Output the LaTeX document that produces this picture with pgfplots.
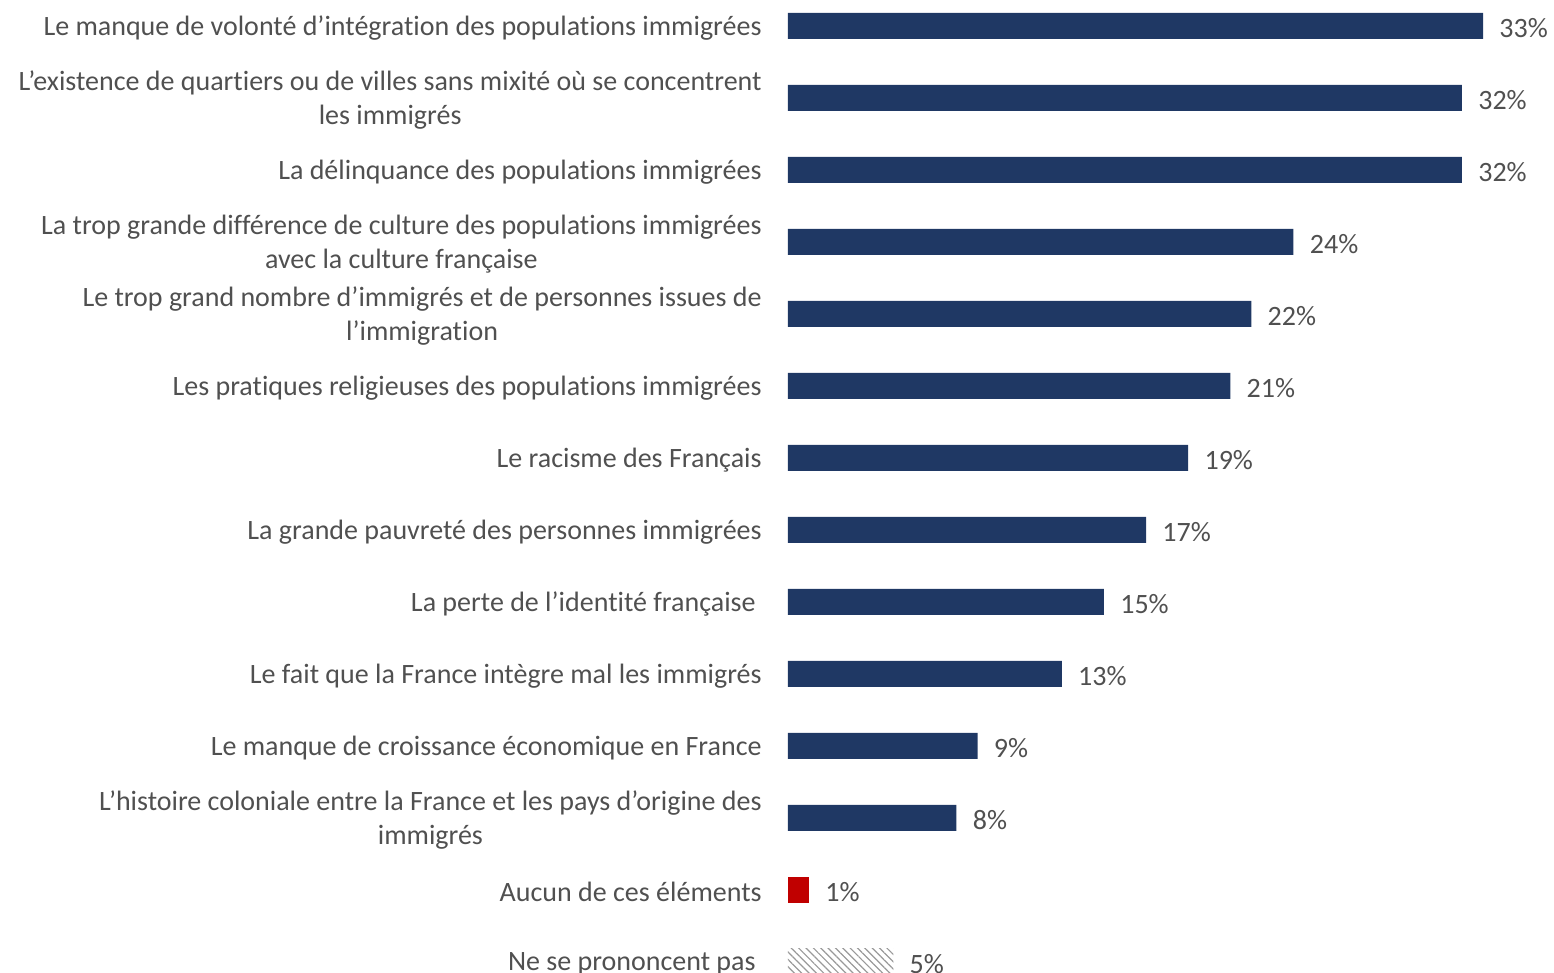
\documentclass[border=0pt]{standalone}
\usepackage{pgfplots}
\pgfplotsset{compat=1.18}
\usepackage{fontspec}
\setmainfont{Carlito}[Ligatures={NoCommon}]
\usetikzlibrary{patterns.meta}
\definecolor{navy}{HTML}{1F3864}
\definecolor{redbar}{HTML}{C00000}
\definecolor{txt}{HTML}{505050}
\begin{document}
\begin{tikzpicture}
\begin{axis}[
  at={(394pt,-16.1pt)}, anchor=south west,
  scale only axis, width=379.1pt, height=507.6pt,
  xmin=0, xmax=36, ymin=-13.6, ymax=0.5,
  xbar, bar width=13pt, bar shift=0pt,
  hide x axis,
  axis y line*=left, y axis line style={draw=none},
  ytick={0,-1,-2,-3,-4,-5,-6,-7,-8,-9,-10,-11,-12,-13},
  yticklabels={
    {Le manque de volonté d’intégration des populations immigrées},
    {L’existence de quartiers ou de villes sans mixité où se concentrent\\les immigrés},
    {La délinquance des populations immigrées},
    {La trop grande différence de culture des populations immigrées\\avec la culture française},
    {Le trop grand nombre d’immigrés et de personnes issues de\\l’immigration},
    {Les pratiques religieuses des populations immigrées},
    {Le racisme des Français},
    {La grande pauvreté des personnes immigrées},
    {La perte de l’identité française\kern3pt},
    {Le fait que la France intègre mal les immigrés},
    {Le manque de croissance économique en France},
    {L’histoire coloniale entre la France et les pays d’origine des\\immigrés},
    {Aucun de ces éléments},
    {Ne se prononcent pas\kern3pt}},
  ytick style={draw=none}, major tick length=0pt,
  yticklabel style={align=center, anchor=east, inner sep=0pt, xshift=-13pt, yshift=-1pt,
    font=\fontsize{14}{17}\selectfont, text=txt},
  point meta=x,
  nodes near coords={\pgfmathprintnumber[assume math mode=true]{\pgfplotspointmeta}\%},
  nodes near coords style={anchor=west, inner sep=0pt, xshift=8pt, yshift=-1pt,
    font=\fontsize{14}{17}\selectfont, text=txt},
  clip=false,
]
\addplot[fill=navy, draw=none] coordinates {
  (33,0) (32,-1) (32,-2) (24,-3) (22,-4) (21,-5) (19,-6)
  (17,-7) (15,-8) (13,-9) (9,-10) (8,-11)};
\addplot[fill=redbar, draw=none] coordinates {(1,-12)};
\addplot[draw=none, pattern={Lines[angle=-45, distance=2.6pt, line width=0.6pt]}, pattern color=gray!80] coordinates {(5,-13)};
\end{axis}
\pgfresetboundingbox
\path[use as bounding box] (0,0) rectangle (777pt,486.5pt);
\end{tikzpicture}
\end{document}
